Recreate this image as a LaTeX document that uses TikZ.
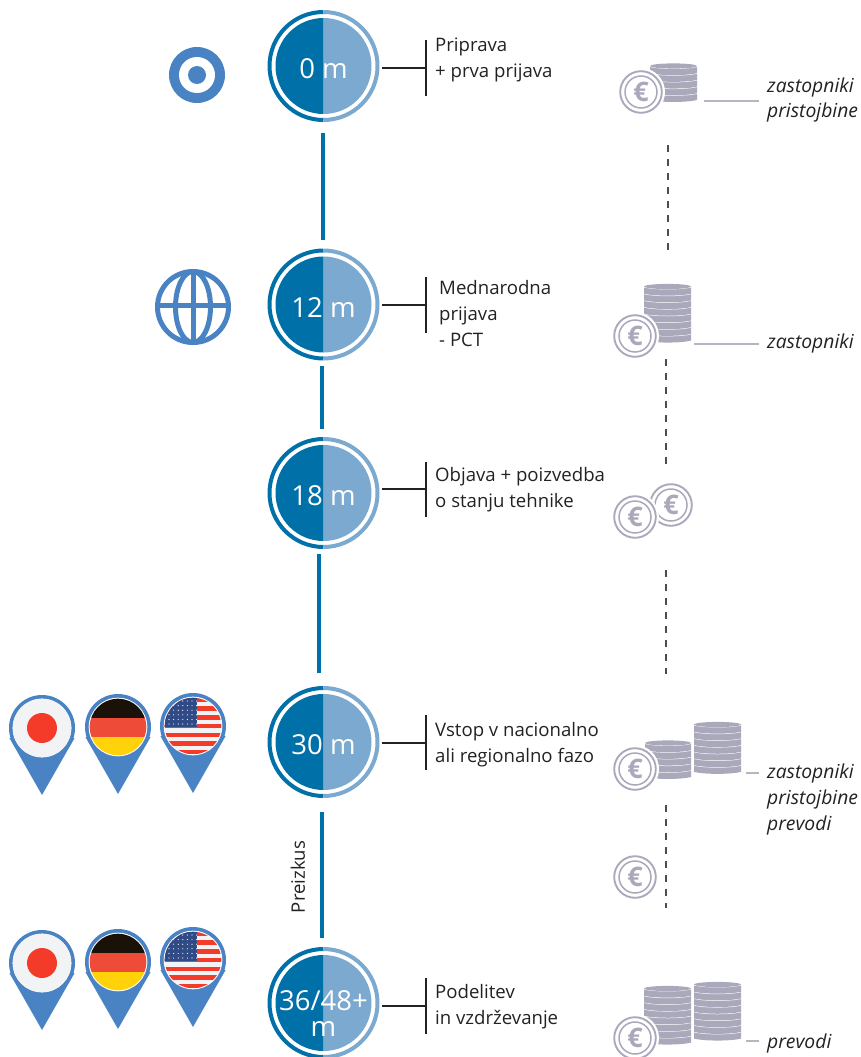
\documentclass[tikz,border=0pt]{standalone}
\usepackage{fontspec}
\setmainfont{Open Sans}
\definecolor{dkblue}{HTML}{0070A8}
\definecolor{ltblue}{HTML}{7BA9CF}
\definecolor{pinblue}{HTML}{4A83C4}
\definecolor{coingrey}{HTML}{A9A9BB}
\definecolor{linegrey}{HTML}{B5B5C3}
\definecolor{txt}{HTML}{222222}
\definecolor{dashc}{HTML}{55484A}
\tikzset{
  x=1pt,y=-1pt,
  spine/.style={draw=dkblue,line width=4pt},
  leader/.style={draw=txt,line width=1.1pt},
  feeline/.style={draw=linegrey,line width=1.1pt},
  dashline/.style={draw=dashc,line width=1.5pt,dash pattern=on 6.5pt off 7.5pt},
  info/.style={anchor=west,align=left,text=txt,font=\fontsize{18.6}{26}\selectfont,inner sep=0pt},
  fee/.style={anchor=west,align=left,text=txt,font=\fontsize{19.3}{25.7}\selectfont\itshape,inner sep=0pt},
  month/.style={circle,minimum size=112pt,inner sep=0pt,align=center,text=white,font=\fontsize{27.5}{26}\selectfont},
}
\newcommand{\mstone}[5]{%
  \begin{scope}[shift={(#2,#3)}]
    \fill[dkblue] (0,-48) arc[start angle=90,end angle=270,x radius=48pt,y radius=48pt] -- cycle;
    \fill[ltblue] (0,-48) arc[start angle=90,end angle=-90,x radius=48pt,y radius=48pt] -- cycle;
    \draw[dkblue,line width=4pt] (0,-54) arc[start angle=90,end angle=270,x radius=54pt,y radius=54pt];
    \draw[ltblue,line width=4pt] (0,-54) arc[start angle=90,end angle=-90,x radius=54pt,y radius=54pt];
  \end{scope}
  \node[month] (#1) at (#2,#3+#5) {#4};}
\newcommand{\coinicon}[3]{%
  \fill[white] (#2,#3) circle[radius=24pt];
  \draw[coingrey,line width=1.9pt] (#2,#3) circle[radius=20.8pt];
  \draw[coingrey,line width=1.5pt] (#2,#3) circle[radius=16pt];
  \node[text=coingrey,inner sep=0pt,font=\fontsize{27}{27}\selectfont\bfseries] (#1) at (#2,#3) {€};}
% x0 x1 ytop nbands
\newcommand{\coinstack}[4]{%
  \pgfmathsetmacro{\xa}{#1}\pgfmathsetmacro{\xb}{#2}
  \pgfmathsetmacro{\xm}{(#1+#2)/2}\pgfmathsetmacro{\rx}{(#2-#1)/2}
  \foreach \i in {#4,...,1}{
    \pgfmathsetmacro{\yu}{#3+3+(\i-1)*6.7}
    \pgfmathsetmacro{\yd}{\yu+6.7}
    \fill[coingrey] (\xa,\yu) -- (\xa,\yd) .. controls (\xa+10,\yd+2.6) and (\xb-10,\yd+2.6) .. (\xb,\yd) -- (\xb,\yu) -- cycle;
    \draw[white,line width=1pt] (\xa,\yu) .. controls (\xa+10,\yu+2.6) and (\xb-10,\yu+2.6) .. (\xb,\yu);
  }
  \fill[coingrey] (\xm,#3+2.5) ellipse[x radius=\rx pt,y radius=2.6pt];}
\newcommand{\pinbase}{%
  \fill[pinblue] (-32.6,10) -- (0,67) -- (32.6,10) -- cycle;
  \fill[pinblue] (0,0) circle[radius=33pt];
  \fill[white] (0,0) circle[radius=29.3pt];}
\tikzset{HTML/.code={\definecolor{tmpc}{HTML}{#1}\tikzset{color=tmpc}}}
\newcommand{\pinjapan}[2]{%
  \begin{scope}[shift={(#1,#2)}]
    \pinbase
    \fill[HTML=F2F3F5] (0,0) circle[radius=29.3pt];
    \fill[HTML=F43A28] (0,0) circle[radius=15pt];
  \end{scope}}
\newcommand{\pingermany}[2]{%
  \begin{scope}[shift={(#1,#2)}]
    \pinbase
    \begin{scope}
      \clip (0,0) circle[radius=28.3pt];
      \fill[HTML=1A1208] (-30,-30) rectangle (30,-9.5);
      \fill[HTML=EF4B39] (-30,-9.5) rectangle (30,9.5);
      \fill[HTML=FFD20A] (-30,9.5) rectangle (30,30);
    \end{scope}
  \end{scope}}
\newcommand{\pinusa}[2]{%
  \begin{scope}[shift={(#1,#2)}]
    \pinbase
    \begin{scope}
      \clip (0,0) circle[radius=28.3pt];
      \fill[HTML=F2F3F5] (-30,-30) rectangle (30,30);
      \foreach \k in {0,...,6}{
        \fill[HTML=F43A28] (-30,-28.3+\k*8.7) rectangle (30,-28.3+\k*8.7+4.4);
      }
      \fill[HTML=2F4A85] (-30,-30) rectangle (4,1);
      \foreach \r in {0,...,5}{\foreach \c in {0,...,6}{
        \fill[white] (-24+\c*4.6,-25+\r*4.6) circle[radius=.6pt];
      }}
    \end{scope}
  \end{scope}}
\begin{document}
\begin{tikzpicture}
\useasboundingbox (0,0) rectangle (861,1057);
% milestones
\mstone{m0}{323.5}{66}{0 m}{3}
\mstone{m1}{323.5}{304.5}{12 m}{3}
\mstone{m2}{323.5}{493}{18 m}{3}
\mstone{m3}{323.5}{742}{30 m}{3}
\mstone{m4}{323.5}{1003}{36/48+\\m}{11}
% spine
\coordinate (s0a) at (323,133); \coordinate (s0b) at (323,240);
\coordinate (s1a) at (322,366); \coordinate (s1b) at (322,429);
\coordinate (s2a) at (319,554); \coordinate (s2b) at (319,673);
\coordinate (s3a) at (322,812); \coordinate (s3b) at (322,938);
\draw[spine] (s0a) -- (s0b);
\draw[spine] (s1a) -- (s1b);
\draw[spine] (s2a) -- (s2b);
\draw[spine] (s3a) -- (s3b);
\node[rotate=90,text=txt,inner sep=0pt,font=\fontsize{18.6}{20}\selectfont] (exam) at (298,877) {Preizkus};
% leaders
\foreach \n/\yh/\yt/\yb/\xs in {0/68/40/96/382,1/305/277/333/382,2/489/462/517/382,3/743/715/770/382,4/1006/978/1034/382}{
  \coordinate (la\n) at (\xs,\yh);
  \coordinate (lb\n) at (426,\yh);
  \coordinate (bt\n) at (426,\yt);
  \coordinate (bb\n) at (426,\yb);
  \draw[leader] (la\n) -- (lb\n);
  \draw[leader] (bt\n) -- (bb\n);
}
% info texts
\node[info] (t0) at (435,60) {Priprava\\+ prva prijava};
\node[info] (t1) at (439,314) {Mednarodna\\prijava\\- PCT};
\node[info] (t2) at (435,489.5) {Objava + poizvedba\\o stanju tehnike};
\node[info] (t3) at (435,745) {Vstop v nacionalno\\ali regionalno fazo};
\node[info] (t4) at (435,1006.5) {Podelitev\\in vzdrževanje};
% left icons
\fill[pinblue] (197,75) circle[radius=28pt];
\fill[white] (197,75) circle[radius=18pt];
\fill[pinblue] (197,75) circle[radius=9pt];
\begin{scope}[shift={(193,307)},line width=5pt]
  \draw[pinblue] (0,0) circle[radius=35.5pt];
  \draw[pinblue] (0,0) ellipse[x radius=17.5pt,y radius=35.5pt];
  \draw[pinblue] (0,-35.5) -- (0,35.5);
  \draw[pinblue] (-35.5,-2) -- (35.5,-2);
\end{scope}
\pinjapan{42}{728}
\pingermany{118}{727}
\pinusa{193}{726}
\pinjapan{42}{963}
\pingermany{118}{962}
\pinusa{193}{960}
% coins
\coinstack{650}{697}{63.5}{5}
\coinicon{c0}{641}{92}
\coinstack{644}{691}{284}{8}
\coinicon{c1}{635}{336}
\coinicon{c2}{671}{505}
\coinicon{c3}{635}{517}
\coinstack{694}{741}{722}{7}
\coinstack{645}{691}{740.5}{5}
\coinicon{c4}{635}{769}
\coinicon{c5}{635}{877}
\coinstack{694}{741}{982}{8}
\coinstack{644}{691}{986}{8}
\coinicon{c6}{635}{1038}
% dashes
\coordinate (d0a) at (668,145); \coordinate (d0b) at (668,250);
\coordinate (d1a) at (666,359); \coordinate (d1b) at (666,465);
\coordinate (d2a) at (666,570); \coordinate (d2b) at (666,674);
\coordinate (d3a) at (666,805); \coordinate (d3b) at (666,908);
\draw[dashline] (d0a) -- (d0b);
\draw[dashline] (d1a) -- (d1b);
\draw[dashline] (d2a) -- (d2b);
\draw[dashline] (d3a) -- (d3b);
% fee lines
\coordinate (f0a) at (704,101); \coordinate (f0b) at (759,101);
\coordinate (f1a) at (694,344); \coordinate (f1b) at (759,344);
\coordinate (f3a) at (746,773); \coordinate (f3b) at (759,773);
\coordinate (f4a) at (746,1041); \coordinate (f4b) at (759,1041);
\draw[feeline] (f0a) -- (f0b);
\draw[feeline] (f1a) -- (f1b);
\draw[feeline] (f3a) -- (f3b);
\draw[feeline] (f4a) -- (f4b);
\node[fee] (r0) at (767,100) {zastopniki\\pristojbine};
\node[fee] (r1) at (767,343) {zastopniki};
\node[fee] (r3) at (767,799.5) {zastopniki\\pristojbine\\prevodi};
\node[fee] (r4) at (767,1043) {prevodi};
\end{tikzpicture}
\end{document}
